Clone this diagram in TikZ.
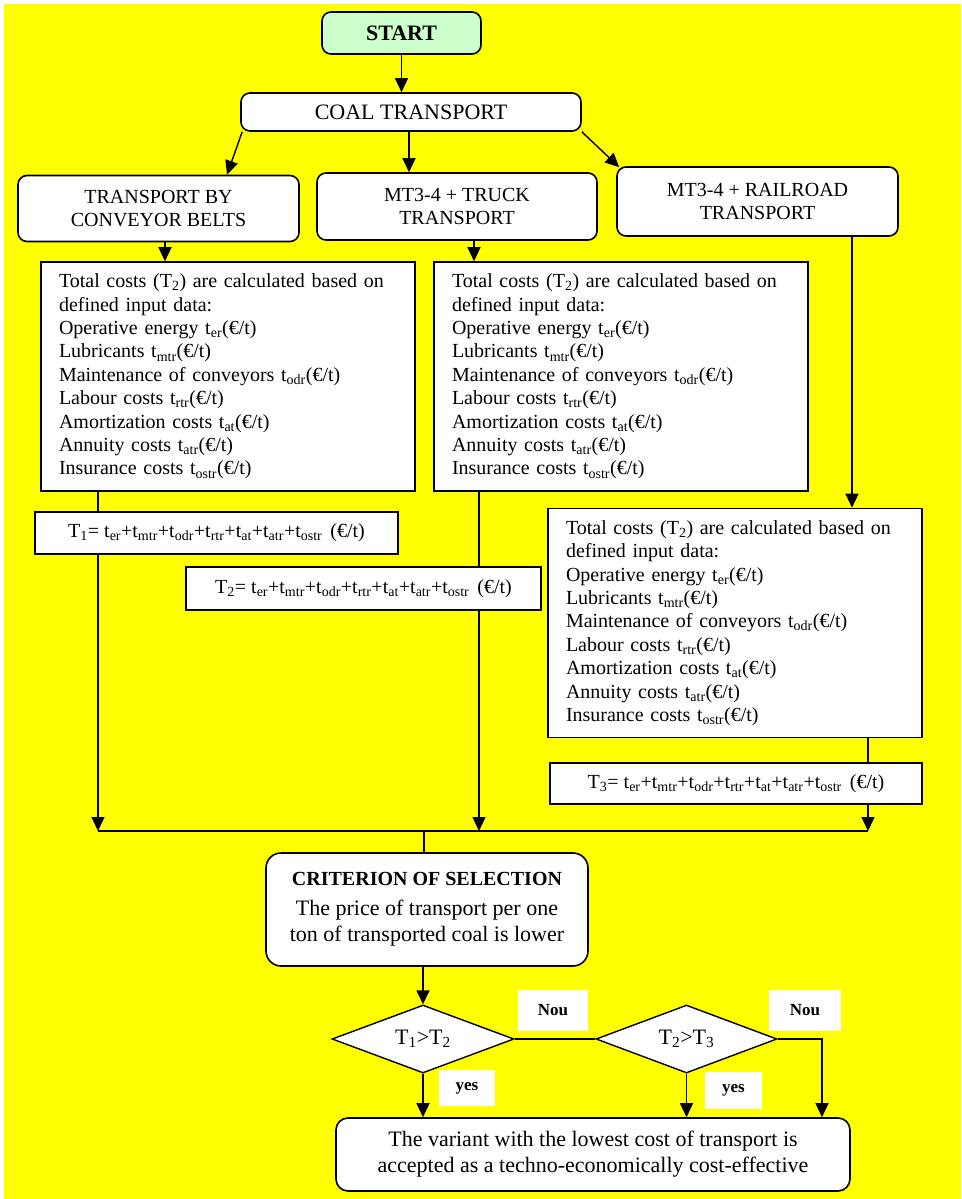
\documentclass[tikz,border=0pt]{standalone}
\usepackage{fontspec}
\setmainfont{Liberation Serif}
\usetikzlibrary{arrows.meta,shapes.geometric}
\newcommand{\sbs}[1]{\textsubscript{#1}}
\definecolor{bgyellow}{HTML}{FFFF00}
\definecolor{startgreen}{HTML}{CCFFCC}
\begin{document}
\begin{tikzpicture}[x=1pt,y=-1pt,
  rbox/.style={draw, line width=1.6pt, rounded corners=9pt, fill=white, align=center, inner sep=0pt, font=\fontsize{20}{23}\selectfont},
  sqbox/.style={draw, line width=1.6pt, fill=white, inner sep=0pt, font=\fontsize{20}{23.4}\selectfont},
  bodybox/.style={sqbox, text width=338pt, inner xsep=18pt, align=left, minimum height=229pt},
  fbox/.style={sqbox, align=center},
  dia/.style={draw, line width=1.4pt, diamond, fill=white, inner sep=0pt, aspect=2.68, font=\fontsize{22}{24}\selectfont},
  lbl/.style={fill=white, inner sep=0pt, font=\fontsize{17}{19}\selectfont\bfseries},
  conn/.style={line width=1.4pt},
  arr/.style={conn, -{Triangle[length=14pt,width=13pt]}}
]
\useasboundingbox (0,0) rectangle (961,1199);
\fill[white] (0,0) rectangle (961,1199);
\fill[bgyellow] (4,4) rectangle (961,1199);

% nodes
\node[rbox, fill=startgreen, minimum width=159pt, minimum height=42pt, font=\fontsize{22}{24}\selectfont\bfseries] (start) at (401.5,33) {START};
\node[rbox, minimum width=340pt, minimum height=38pt, font=\fontsize{22}{24}\selectfont] (coal) at (411,112) {COAL TRANSPORT};
\node[rbox, minimum width=281pt, minimum height=66pt] (conv) at (158.5,208.5) {TRANSPORT BY\\CONVEYOR BELTS};
\node[rbox, minimum width=280pt, minimum height=67pt] (truck) at (457,206.5) {MT3-4 + TRUCK\\TRANSPORT};
\node[rbox, minimum width=281pt, minimum height=69pt] (rail) at (757.5,201.5) {MT3-4 + RAILROAD\\TRANSPORT};

\node[bodybox] (b1) at (228,376.5) {Total costs (T\sbs{2}) are calculated based on\\defined input data:\\Operative energy t\sbs{er}(€/t)\\Lubricants t\sbs{mtr}(€/t)\\Maintenance of conveyors t\sbs{odr}(€/t)\\Labour costs t\sbs{rtr}(€/t)\\Amortization costs t\sbs{at}(€/t)\\Annuity costs t\sbs{atr}(€/t)\\Insurance costs t\sbs{ostr}(€/t)};
\node[bodybox] (b2) at (621,376.5) {Total costs (T\sbs{2}) are calculated based on\\defined input data:\\Operative energy t\sbs{er}(€/t)\\Lubricants t\sbs{mtr}(€/t)\\Maintenance of conveyors t\sbs{odr}(€/t)\\Labour costs t\sbs{rtr}(€/t)\\Amortization costs t\sbs{at}(€/t)\\Annuity costs t\sbs{atr}(€/t)\\Insurance costs t\sbs{ostr}(€/t)};
\node[bodybox] (b3) at (735,623) {Total costs (T\sbs{2}) are calculated based on\\defined input data:\\Operative energy t\sbs{er}(€/t)\\Lubricants t\sbs{mtr}(€/t)\\Maintenance of conveyors t\sbs{odr}(€/t)\\Labour costs t\sbs{rtr}(€/t)\\Amortization costs t\sbs{at}(€/t)\\Annuity costs t\sbs{atr}(€/t)\\Insurance costs t\sbs{ostr}(€/t)};

\node[fbox, minimum width=363pt, minimum height=42pt] (t1) at (216.5,533) {T\sbs{1}= t\sbs{er}+t\sbs{mtr}+t\sbs{odr}+t\sbs{rtr}+t\sbs{at}+t\sbs{atr}+t\sbs{ostr}\hspace{8pt}(€/t)};
\node[fbox, minimum width=355pt, minimum height=43pt] (t2) at (363.5,588.5) {T\sbs{2}= t\sbs{er}+t\sbs{mtr}+t\sbs{odr}+t\sbs{rtr}+t\sbs{at}+t\sbs{atr}+t\sbs{ostr}\hspace{8pt}(€/t)};
\node[fbox, minimum width=372pt, minimum height=41pt] (t3) at (736,783.5) {T\sbs{3}= t\sbs{er}+t\sbs{mtr}+t\sbs{odr}+t\sbs{rtr}+t\sbs{at}+t\sbs{atr}+t\sbs{ostr}\hspace{8pt}(€/t)};

\node[rbox, rounded corners=15pt, minimum width=322pt, minimum height=113pt, font=\fontsize{22}{26}\selectfont] (crit) at (427,909.5) {{\fontsize{20}{22}\selectfont\bfseries CRITERION OF SELECTION}\\[4pt]The price of transport per one\\ton of transported coal is lower};

\node[dia, minimum width=182pt, minimum height=68pt] (d1) at (423,1039) {T\sbs{1}>T\sbs{2}};
\node[dia, minimum width=181pt, minimum height=68pt] (d2) at (686.5,1039) {T\sbs{2}>T\sbs{3}};

\node[lbl, minimum width=70pt, minimum height=41pt] (nou1) at (553,1010.5) {Nou};
\node[lbl, minimum width=72pt, minimum height=41pt] (nou2) at (805,1010.5) {Nou};
\node[lbl, minimum width=56pt, minimum height=36pt] (yes1) at (467,1088) {yes};
\node[lbl, minimum width=57pt, minimum height=37pt] (yes2) at (733.5,1090.5) {yes};

\node[rbox, rounded corners=12pt, minimum width=514pt, minimum height=73pt, font=\fontsize{22}{26}\selectfont] (fin) at (593,1154.5) {The variant with the lowest cost of transport is\\accepted as a techno-economically cost-effective};

% merge coordinates
\coordinate (m1) at (98,831);
\coordinate (m2) at (479,831);
\coordinate (m3) at (868,831);
\coordinate (mc) at (424,831);
\coordinate (k) at (822,1039);

% connectors
\draw[arr] (start.south) -- (start.south |- coal.north);
\draw[arr] ([xshift=2pt]coal.south west) -- ([xshift=68.5pt]conv.north);
\draw[arr] ([xshift=-2pt]coal.south) -- ([xshift=-2pt]coal.south |- truck.north);
\draw[arr] (coal.south east) -- ([xshift=3pt,yshift=-1pt]rail.north west);

\draw[arr] ([xshift=6.5pt]conv.south) -- ([xshift=6.5pt]conv.south |- b1.north);
\draw[arr] ([xshift=17pt]truck.south) -- ([xshift=17pt]truck.south |- b2.north);
\draw[arr] ([xshift=94.5pt]rail.south) -- ([xshift=94.5pt]rail.south |- b3.north);

\draw[conn] ([xshift=-130pt]b1.south) -- ([xshift=-130pt]b1.south |- t1.north);
\draw[arr] ([xshift=-118.5pt]t1.south) -- (m1);
\draw[conn] ([xshift=-142pt]b2.south) -- ([xshift=-142pt]b2.south |- t2.north);
\draw[arr] ([xshift=115.5pt]t2.south) -- (m2);
\draw[conn] ([xshift=133pt]b3.south) -- ([xshift=133pt]b3.south |- t3.north);
\draw[arr] ([xshift=132pt]t3.south) -- (m3);
\draw[conn] (m1) -- (m3);

\draw[conn] (mc) -- (mc |- crit.north);
\draw[arr] (d1.north |- crit.south) -- (d1.north);
\draw[conn] (d1.east) -- (d2.west);
\draw[arr] (d2.east) -- (k) -- (k |- fin.north);
\draw[arr] (d1.south) -- (d1.south |- fin.north);
\draw[arr] (d2.south) -- (d2.south |- fin.north);
\end{tikzpicture}
\end{document}
